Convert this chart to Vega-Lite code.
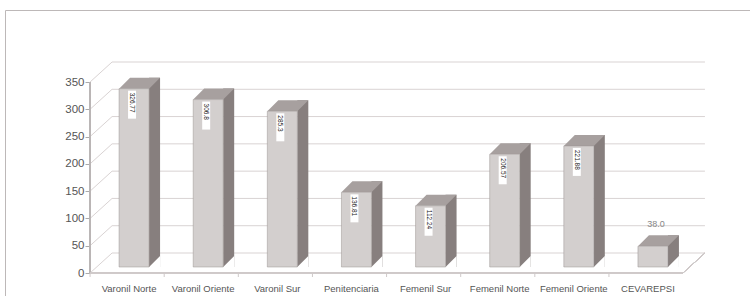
{
  "$schema": "https://vega.github.io/schema/vega-lite/v6.json",
  "width": 760,
  "height": 300,
  "padding": {"left": 5, "top": 10, "right": 0, "bottom": 0},
  "autosize": {"type": "pad"},
  "background": "white",
  "config": {
    "view": {"stroke": "#bdb8b8", "strokeWidth": 1},
    "font": "Liberation Sans",
    "axis": {"labelFont": "Liberation Sans", "labelColor": "#555555", "grid": false, "domain": false}
  },
  "datasets": {
    "bars": [
      {"unidad": "Varonil Norte", "valor": 326.77, "etiqueta": "326.77"},
      {"unidad": "Varonil Oriente", "valor": 306.8, "etiqueta": "306.8"},
      {"unidad": "Varonil Sur", "valor": 285.3, "etiqueta": "285.3"},
      {"unidad": "Penitenciaria", "valor": 136.81, "etiqueta": "136.81"},
      {"unidad": "Femenil Sur", "valor": 112.24, "etiqueta": "112.24"},
      {"unidad": "Femenil Norte", "valor": 206.57, "etiqueta": "206.57"},
      {"unidad": "Femenil Oriente", "valor": 221.88, "etiqueta": "221.88"},
      {"unidad": "CEVAREPSI", "valor": 38.0, "etiqueta": "38.0"}
    ],
    "ticks": [
      {"t": 0}, {"t": 50}, {"t": 100}, {"t": 150}, {"t": 200}, {"t": 250}, {"t": 300}, {"t": 350}
    ]
  },
  "data": {"name": "bars"},
  "layer": [
    {
      "data": {"name": "ticks"},
      "mark": {"type": "rule", "color": "#d9d3d3", "strokeWidth": 1, "xOffset": -37, "x2Offset": 37},
      "encoding": {
        "y": {"field": "t", "type": "quantitative", "scale": {"domain": [0, 350], "range": [243, 52]},
          "axis": {"orient": "left", "offset": -85, "values": [0, 50, 100, 150, 200, 250, 300, 350], "labelOffset": 0, "tickOffset": 20, "tickSize": 5, "tickColor": "#aaaaaa", "labelPadding": 1, "labelFontSize": 11.5, "title": null}},
        "x": {"datum": "Varonil Norte", "type": "nominal",
          "scale": {"domain": ["Varonil Norte", "Varonil Oriente", "Varonil Sur", "Penitenciaria", "Femenil Sur", "Femenil Norte", "Femenil Oriente", "CEVAREPSI"], "range": [107, 700], "paddingInner": 0, "paddingOuter": 0}},
        "x2": {"datum": "CEVAREPSI"}
      }
    },
    {
      "data": {"name": "ticks"},
      "mark": {"type": "rule", "color": "#d9d3d3", "strokeWidth": 1, "xOffset": -37, "x2Offset": -59, "y2Offset": 20},
      "encoding": {
        "y": {"field": "t", "type": "quantitative"},
        "y2": {"field": "t"},
        "x": {"datum": "Varonil Norte", "type": "nominal"},
        "x2": {"datum": "Varonil Norte"}
      }
    },
    {
      "mark": {"type": "rule", "color": "#bbb5b5", "strokeWidth": 1, "xOffset": -59, "yOffset": 20, "y2Offset": 20},
      "encoding": {
        "x": {"datum": "Varonil Norte", "type": "nominal"},
        "y": {"datum": 0, "type": "quantitative"},
        "y2": {"datum": 350}
      }
    },
    {
      "mark": {"type": "rule", "color": "#cfc9c9", "strokeWidth": 1, "xOffset": -59, "x2Offset": 15, "yOffset": 20},
      "encoding": {
        "x": {"datum": "Varonil Norte", "type": "nominal"},
        "x2": {"datum": "CEVAREPSI"},
        "y": {"datum": 0, "type": "quantitative"}
      }
    },
    {
      "mark": {"type": "rule", "color": "#cfc9c9", "strokeWidth": 1, "xOffset": 15, "x2Offset": 37, "yOffset": 20},
      "encoding": {
        "x": {"datum": "CEVAREPSI", "type": "nominal"},
        "x2": {"datum": "CEVAREPSI"},
        "y": {"datum": 0, "type": "quantitative"},
        "y2": {"datum": 0}
      }
    },
    {
      "mark": {"type": "rule", "color": "#cfc9c9", "strokeWidth": 1, "xOffset": -59, "yOffset": 20, "y2Offset": 24},
      "encoding": {
        "x": {"field": "unidad", "type": "nominal", "sort": null,
          "axis": {"orient": "bottom", "offset": -27, "ticks": false, "tickSize": 0, "labelPadding": 0, "labelOffset": -20, "labelAngle": 0, "labelAlign": "center", "labelFontSize": 9.5, "labelBaseline": "top", "title": null}},
        "y": {"datum": 0, "type": "quantitative"},
        "y2": {"datum": 0}
      }
    },
    {
      "mark": {"type": "bar", "color": "#877f7e", "width": 11, "xOffset": 5.5, "yOffset": 3, "y2Offset": 14},
      "encoding": {
        "x": {"field": "unidad", "type": "nominal", "sort": null},
        "y": {"field": "valor", "type": "quantitative"},
        "y2": {"datum": 0}
      }
    },
    {
      "mark": {"type": "point", "filled": true, "fill": "white", "opacity": 1, "strokeWidth": 0, "size": 121, "shape": "M-1,1L1,1L1,-1Z", "xOffset": 5.5, "yOffset": 8.5},
      "encoding": {
        "x": {"field": "unidad", "type": "nominal", "sort": null},
        "y": {"datum": 0, "type": "quantitative"}
      }
    },
    {
      "mark": {"type": "point", "filled": true, "fill": "#a7a09f", "opacity": 1, "strokeWidth": 0, "size": 1681, "shape": "M-1,0.2683L0.4634,0.2683L1,-0.2683L-0.4634,-0.2683Z", "xOffset": -9.5, "yOffset": 8.5},
      "encoding": {
        "x": {"field": "unidad", "type": "nominal", "sort": null},
        "y": {"field": "valor", "type": "quantitative"}
      }
    },
    {
      "mark": {"type": "bar", "color": "#d3cfce", "stroke": "#9a9493", "strokeWidth": 0.5, "width": 30, "xOffset": -15, "yOffset": 14, "y2Offset": 14},
      "encoding": {
        "x": {"field": "unidad", "type": "nominal", "sort": null},
        "y": {"field": "valor", "type": "quantitative"},
        "y2": {"datum": 0}
      }
    },
    {
      "transform": [{"filter": "datum.valor > 50"}],
      "mark": {"type": "bar", "color": "white", "width": 8, "xOffset": -17, "yOffset": 16, "y2Offset": 44},
      "encoding": {
        "x": {"field": "unidad", "type": "nominal", "sort": null},
        "y": {"field": "valor", "type": "quantitative"},
        "y2": {"field": "valor"}
      }
    },
    {
      "transform": [{"filter": "datum.valor > 50"}],
      "mark": {"type": "text", "angle": 90, "align": "left", "baseline": "middle", "fontSize": 6.5, "color": "#222222", "font": "Liberation Sans", "xOffset": -17, "yOffset": 18},
      "encoding": {
        "x": {"field": "unidad", "type": "nominal", "sort": null},
        "y": {"field": "valor", "type": "quantitative"},
        "text": {"field": "etiqueta"}
      }
    },
    {
      "transform": [{"filter": "datum.valor <= 50"}],
      "mark": {"type": "text", "align": "center", "baseline": "middle", "fontSize": 9, "color": "#888888", "font": "Liberation Sans", "xOffset": -12, "yOffset": -8},
      "encoding": {
        "x": {"field": "unidad", "type": "nominal", "sort": null},
        "y": {"field": "valor", "type": "quantitative"},
        "text": {"field": "etiqueta"}
      }
    }
  ]
}
